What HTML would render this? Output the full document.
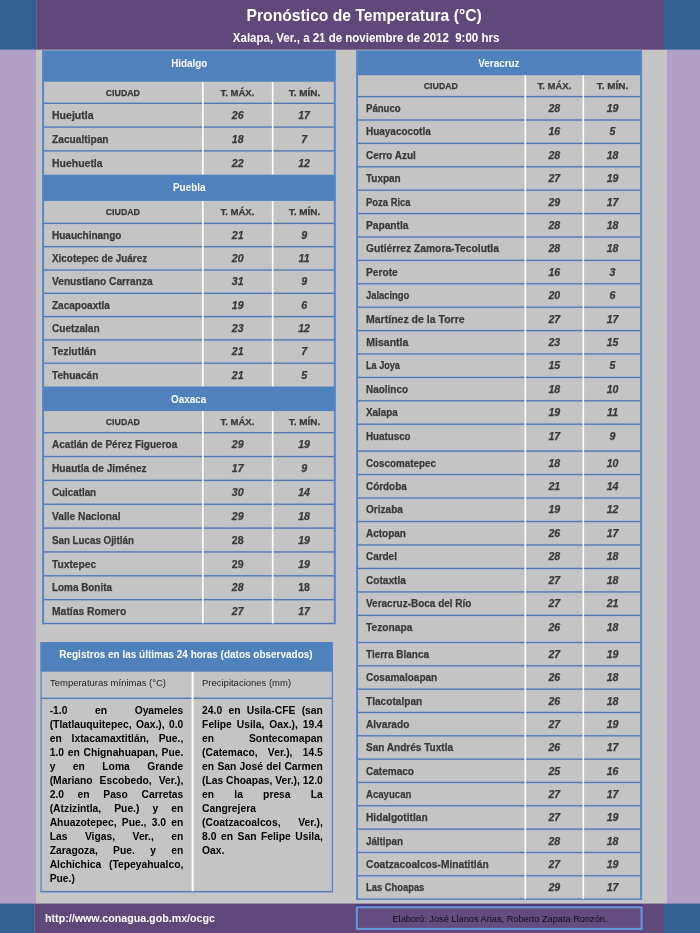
<!DOCTYPE html><html lang="es"><head><meta charset="utf-8"><title>Pronóstico de Temperatura</title><style>

html,body{margin:0;padding:0}
body{width:700px;height:933px;position:relative;overflow:hidden;background:#b2a1c7;font-family:"Liberation Sans",sans-serif;will-change:transform;}
div{position:absolute;box-sizing:border-box}
.t{white-space:nowrap;}
.hd{color:#fff;font-weight:bold;text-align:center;font-size:10.5px}
.row{background:#c4c4c4;border-top:1px solid #5277b0}
.city{-webkit-text-stroke:0.25px #393939;color:#393939;font-weight:bold;font-size:10.5px;white-space:nowrap;transform-origin:0 50%;height:20px;line-height:20px}
.num{-webkit-text-stroke:0.25px #393939;color:#393939;font-weight:bold;font-style:italic;font-size:10.6px;text-align:center;white-space:nowrap;height:20px;line-height:20px}
.ch{-webkit-text-stroke:0.25px #393939;color:#393939;font-weight:bold;font-size:9.2px;text-align:center;white-space:nowrap}
.ch span{display:inline-block}
.vl{background:#fff;width:1.8px}
.j{position:static;text-align:justify;text-align-last:justify;white-space:normal}
.l{position:static;text-align:left;white-space:nowrap}

</style></head><body>
<svg width="700" height="933" viewBox="0 0 700 933" style="position:absolute;left:0;top:0" shape-rendering="geometricPrecision"><rect x="36" y="49.6" width="631" height="854.4" fill="#c5c5c5"/><rect x="0" y="0" width="36.6" height="49.6" fill="#365f91"/><rect x="664" y="0" width="36" height="49.6" fill="#365f91"/><rect x="36.6" y="0" width="627.4" height="49.6" fill="#5f497a"/><rect x="0" y="903.6" width="34.6" height="30" fill="#365f91"/><rect x="664" y="903.6" width="36" height="30" fill="#365f91"/><rect x="34.6" y="903.6" width="629.4" height="30" fill="#5f497a"/><rect x="42.4" y="50.4" width="293.10" height="573.10" fill="#c4c4c4"/><rect x="42.40" y="101.40" width="293.10" height="3.8" fill="#a9c3ea" fill-opacity="0.18"/><rect x="42.40" y="102.62" width="293.10" height="1.35" fill="#5277b0"/><rect x="42.40" y="125.20" width="293.10" height="3.8" fill="#a9c3ea" fill-opacity="0.18"/><rect x="42.40" y="126.42" width="293.10" height="1.35" fill="#5277b0"/><rect x="42.40" y="149.00" width="293.10" height="3.8" fill="#a9c3ea" fill-opacity="0.18"/><rect x="42.40" y="150.22" width="293.10" height="1.35" fill="#5277b0"/><rect x="42.40" y="221.50" width="293.10" height="3.8" fill="#a9c3ea" fill-opacity="0.18"/><rect x="42.40" y="222.72" width="293.10" height="1.35" fill="#5277b0"/><rect x="42.40" y="244.80" width="293.10" height="3.8" fill="#a9c3ea" fill-opacity="0.18"/><rect x="42.40" y="246.03" width="293.10" height="1.35" fill="#5277b0"/><rect x="42.40" y="268.10" width="293.10" height="3.8" fill="#a9c3ea" fill-opacity="0.18"/><rect x="42.40" y="269.32" width="293.10" height="1.35" fill="#5277b0"/><rect x="42.40" y="291.40" width="293.10" height="3.8" fill="#a9c3ea" fill-opacity="0.18"/><rect x="42.40" y="292.62" width="293.10" height="1.35" fill="#5277b0"/><rect x="42.40" y="314.70" width="293.10" height="3.8" fill="#a9c3ea" fill-opacity="0.18"/><rect x="42.40" y="315.93" width="293.10" height="1.35" fill="#5277b0"/><rect x="42.40" y="338.00" width="293.10" height="3.8" fill="#a9c3ea" fill-opacity="0.18"/><rect x="42.40" y="339.22" width="293.10" height="1.35" fill="#5277b0"/><rect x="42.40" y="361.30" width="293.10" height="3.8" fill="#a9c3ea" fill-opacity="0.18"/><rect x="42.40" y="362.52" width="293.10" height="1.35" fill="#5277b0"/><rect x="42.40" y="430.80" width="293.10" height="3.8" fill="#a9c3ea" fill-opacity="0.18"/><rect x="42.40" y="432.02" width="293.10" height="1.35" fill="#5277b0"/><rect x="42.40" y="454.65" width="293.10" height="3.8" fill="#a9c3ea" fill-opacity="0.18"/><rect x="42.40" y="455.88" width="293.10" height="1.35" fill="#5277b0"/><rect x="42.40" y="478.50" width="293.10" height="3.8" fill="#a9c3ea" fill-opacity="0.18"/><rect x="42.40" y="479.72" width="293.10" height="1.35" fill="#5277b0"/><rect x="42.40" y="502.35" width="293.10" height="3.8" fill="#a9c3ea" fill-opacity="0.18"/><rect x="42.40" y="503.57" width="293.10" height="1.35" fill="#5277b0"/><rect x="42.40" y="526.20" width="293.10" height="3.8" fill="#a9c3ea" fill-opacity="0.18"/><rect x="42.40" y="527.43" width="293.10" height="1.35" fill="#5277b0"/><rect x="42.40" y="550.05" width="293.10" height="3.8" fill="#a9c3ea" fill-opacity="0.18"/><rect x="42.40" y="551.28" width="293.10" height="1.35" fill="#5277b0"/><rect x="42.40" y="573.90" width="293.10" height="3.8" fill="#a9c3ea" fill-opacity="0.18"/><rect x="42.40" y="575.12" width="293.10" height="1.35" fill="#5277b0"/><rect x="42.40" y="597.75" width="293.10" height="3.8" fill="#a9c3ea" fill-opacity="0.18"/><rect x="42.40" y="598.98" width="293.10" height="1.35" fill="#5277b0"/><rect x="42.40" y="621.60" width="293.10" height="3.8" fill="#a9c3ea" fill-opacity="0.18"/><rect x="42.40" y="622.83" width="293.10" height="1.35" fill="#5277b0"/><rect x="202.00" y="50.40" width="1.6" height="573.10" fill="#fff"/><rect x="271.90" y="50.40" width="1.6" height="573.10" fill="#fff"/><rect x="42.4" y="50.40" width="293.10" height="31.30" fill="#4f81bd"/><rect x="42.4" y="174.70" width="293.10" height="26.20" fill="#4f81bd"/><rect x="42.4" y="386.50" width="293.10" height="24.60" fill="#4f81bd"/><rect x="42.10" y="50.40" width="2.0" height="573.90" fill="#5a85c8"/><rect x="333.80" y="50.40" width="2.0" height="573.90" fill="#5a85c8"/><rect x="356.4" y="50.4" width="285.40" height="848.70" fill="#c4c4c4"/><rect x="356.40" y="94.70" width="285.40" height="3.8" fill="#a9c3ea" fill-opacity="0.18"/><rect x="356.40" y="95.92" width="285.40" height="1.35" fill="#5277b0"/><rect x="356.40" y="118.10" width="285.40" height="3.8" fill="#a9c3ea" fill-opacity="0.18"/><rect x="356.40" y="119.33" width="285.40" height="1.35" fill="#5277b0"/><rect x="356.40" y="141.50" width="285.40" height="3.8" fill="#a9c3ea" fill-opacity="0.18"/><rect x="356.40" y="142.72" width="285.40" height="1.35" fill="#5277b0"/><rect x="356.40" y="164.90" width="285.40" height="3.8" fill="#a9c3ea" fill-opacity="0.18"/><rect x="356.40" y="166.12" width="285.40" height="1.35" fill="#5277b0"/><rect x="356.40" y="188.30" width="285.40" height="3.8" fill="#a9c3ea" fill-opacity="0.18"/><rect x="356.40" y="189.52" width="285.40" height="1.35" fill="#5277b0"/><rect x="356.40" y="211.70" width="285.40" height="3.8" fill="#a9c3ea" fill-opacity="0.18"/><rect x="356.40" y="212.92" width="285.40" height="1.35" fill="#5277b0"/><rect x="356.40" y="235.10" width="285.40" height="3.8" fill="#a9c3ea" fill-opacity="0.18"/><rect x="356.40" y="236.32" width="285.40" height="1.35" fill="#5277b0"/><rect x="356.40" y="258.50" width="285.40" height="3.8" fill="#a9c3ea" fill-opacity="0.18"/><rect x="356.40" y="259.72" width="285.40" height="1.35" fill="#5277b0"/><rect x="356.40" y="281.90" width="285.40" height="3.8" fill="#a9c3ea" fill-opacity="0.18"/><rect x="356.40" y="283.12" width="285.40" height="1.35" fill="#5277b0"/><rect x="356.40" y="305.30" width="285.40" height="3.8" fill="#a9c3ea" fill-opacity="0.18"/><rect x="356.40" y="306.52" width="285.40" height="1.35" fill="#5277b0"/><rect x="356.40" y="328.70" width="285.40" height="3.8" fill="#a9c3ea" fill-opacity="0.18"/><rect x="356.40" y="329.93" width="285.40" height="1.35" fill="#5277b0"/><rect x="356.40" y="352.10" width="285.40" height="3.8" fill="#a9c3ea" fill-opacity="0.18"/><rect x="356.40" y="353.32" width="285.40" height="1.35" fill="#5277b0"/><rect x="356.40" y="375.50" width="285.40" height="3.8" fill="#a9c3ea" fill-opacity="0.18"/><rect x="356.40" y="376.72" width="285.40" height="1.35" fill="#5277b0"/><rect x="356.40" y="398.90" width="285.40" height="3.8" fill="#a9c3ea" fill-opacity="0.18"/><rect x="356.40" y="400.12" width="285.40" height="1.35" fill="#5277b0"/><rect x="356.40" y="422.30" width="285.40" height="3.8" fill="#a9c3ea" fill-opacity="0.18"/><rect x="356.40" y="423.53" width="285.40" height="1.35" fill="#5277b0"/><rect x="356.40" y="449.20" width="285.40" height="3.8" fill="#a9c3ea" fill-opacity="0.18"/><rect x="356.40" y="450.43" width="285.40" height="1.35" fill="#5277b0"/><rect x="356.40" y="472.67" width="285.40" height="3.8" fill="#a9c3ea" fill-opacity="0.18"/><rect x="356.40" y="473.90" width="285.40" height="1.35" fill="#5277b0"/><rect x="356.40" y="496.14" width="285.40" height="3.8" fill="#a9c3ea" fill-opacity="0.18"/><rect x="356.40" y="497.37" width="285.40" height="1.35" fill="#5277b0"/><rect x="356.40" y="519.61" width="285.40" height="3.8" fill="#a9c3ea" fill-opacity="0.18"/><rect x="356.40" y="520.84" width="285.40" height="1.35" fill="#5277b0"/><rect x="356.40" y="543.09" width="285.40" height="3.8" fill="#a9c3ea" fill-opacity="0.18"/><rect x="356.40" y="544.31" width="285.40" height="1.35" fill="#5277b0"/><rect x="356.40" y="566.56" width="285.40" height="3.8" fill="#a9c3ea" fill-opacity="0.18"/><rect x="356.40" y="567.78" width="285.40" height="1.35" fill="#5277b0"/><rect x="356.40" y="590.03" width="285.40" height="3.8" fill="#a9c3ea" fill-opacity="0.18"/><rect x="356.40" y="591.25" width="285.40" height="1.35" fill="#5277b0"/><rect x="356.40" y="613.50" width="285.40" height="3.8" fill="#a9c3ea" fill-opacity="0.18"/><rect x="356.40" y="614.73" width="285.40" height="1.35" fill="#5277b0"/><rect x="356.40" y="640.60" width="285.40" height="3.8" fill="#a9c3ea" fill-opacity="0.18"/><rect x="356.40" y="641.83" width="285.40" height="1.35" fill="#5277b0"/><rect x="356.40" y="663.93" width="285.40" height="3.8" fill="#a9c3ea" fill-opacity="0.18"/><rect x="356.40" y="665.15" width="285.40" height="1.35" fill="#5277b0"/><rect x="356.40" y="687.25" width="285.40" height="3.8" fill="#a9c3ea" fill-opacity="0.18"/><rect x="356.40" y="688.48" width="285.40" height="1.35" fill="#5277b0"/><rect x="356.40" y="710.58" width="285.40" height="3.8" fill="#a9c3ea" fill-opacity="0.18"/><rect x="356.40" y="711.81" width="285.40" height="1.35" fill="#5277b0"/><rect x="356.40" y="733.91" width="285.40" height="3.8" fill="#a9c3ea" fill-opacity="0.18"/><rect x="356.40" y="735.13" width="285.40" height="1.35" fill="#5277b0"/><rect x="356.40" y="757.24" width="285.40" height="3.8" fill="#a9c3ea" fill-opacity="0.18"/><rect x="356.40" y="758.46" width="285.40" height="1.35" fill="#5277b0"/><rect x="356.40" y="780.56" width="285.40" height="3.8" fill="#a9c3ea" fill-opacity="0.18"/><rect x="356.40" y="781.79" width="285.40" height="1.35" fill="#5277b0"/><rect x="356.40" y="803.89" width="285.40" height="3.8" fill="#a9c3ea" fill-opacity="0.18"/><rect x="356.40" y="805.12" width="285.40" height="1.35" fill="#5277b0"/><rect x="356.40" y="827.22" width="285.40" height="3.8" fill="#a9c3ea" fill-opacity="0.18"/><rect x="356.40" y="828.44" width="285.40" height="1.35" fill="#5277b0"/><rect x="356.40" y="850.55" width="285.40" height="3.8" fill="#a9c3ea" fill-opacity="0.18"/><rect x="356.40" y="851.77" width="285.40" height="1.35" fill="#5277b0"/><rect x="356.40" y="873.87" width="285.40" height="3.8" fill="#a9c3ea" fill-opacity="0.18"/><rect x="356.40" y="875.10" width="285.40" height="1.35" fill="#5277b0"/><rect x="356.40" y="897.20" width="285.40" height="3.8" fill="#a9c3ea" fill-opacity="0.18"/><rect x="356.40" y="898.43" width="285.40" height="1.35" fill="#5277b0"/><rect x="524.50" y="50.40" width="1.6" height="848.70" fill="#fff"/><rect x="582.50" y="50.40" width="1.6" height="848.70" fill="#fff"/><rect x="356.4" y="50.40" width="285.40" height="24.80" fill="#4f81bd"/><rect x="356.10" y="50.40" width="2.0" height="849.50" fill="#5a85c8"/><rect x="640.10" y="50.40" width="2.0" height="849.50" fill="#5a85c8"/><rect x="40.5" y="642" width="292.5" height="250.20000000000005" fill="#c4c4c4"/><rect x="40.50" y="696.40" width="292.50" height="3.8" fill="#a9c3ea" fill-opacity="0.18"/><rect x="40.50" y="697.62" width="292.50" height="1.35" fill="#5277b0"/><rect x="40.50" y="889.80" width="292.50" height="3.8" fill="#a9c3ea" fill-opacity="0.18"/><rect x="40.50" y="891.05" width="292.50" height="1.3" fill="#5277b0"/><rect x="191.60" y="671.70" width="2.0" height="219.50" fill="#fff"/><rect x="40.5" y="642" width="292.5" height="29.7" fill="#4f81bd"/><rect x="40.45" y="642.00" width="1.3" height="250.20" fill="#5a85c8"/><rect x="331.75" y="642.00" width="1.3" height="250.20" fill="#5a85c8"/><rect x="355.7" y="904.6" width="287" height="3" fill="#46367a"/><rect x="356.85" y="907.25" width="284.7" height="21.7" fill="#634d80" stroke="#6a92d6" stroke-width="2.1"/></svg>
<div class="t" style="left:36px;width:657px;top:4px;height:24px;line-height:24px;text-align:center;color:#fff;font-weight:bold;font-size:16.7px"><span style="display:inline-block;transform:scaleX(0.94)">Pronóstico de Temperatura (°C)</span></div>
<div class="t" style="left:36px;width:660px;top:30px;height:16px;line-height:16px;text-align:center;color:#fff;font-weight:bold;font-size:12px;white-space:pre"><span style="display:inline-block;transform:scaleX(0.958)">Xalapa, Ver., a 21 de noviembre de 2012  9:00 hrs</span></div>
<div class="hd" style="left:42.4px;top:50.4px;width:293.1px;height:31.300000000000004px;line-height:26.6px"><span style="display:inline-block;transform:scaleX(0.94)">Hidalgo</span></div>
<div class="ch" style="left:42.4px;top:81.7px;width:160.4px;height:21.599999999999994px;line-height:22.199999999999996px"><span style="transform:scaleX(0.958)">CIUDAD</span></div>
<div class="ch" style="left:202.8px;top:81.7px;width:69.89999999999998px;height:21.599999999999994px;line-height:22.199999999999996px"><span style="transform:scaleX(1.038)">T. MÁX.</span></div>
<div class="ch" style="left:272.7px;top:81.7px;width:62.80000000000001px;height:21.599999999999994px;line-height:22.199999999999996px"><span style="transform:scaleX(1.087)">T. MÍN.</span></div>
<div class="city" style="left:51.70px;top:105.00px;transform:scaleX(1.004)">Huejutla</div>
<div class="num" style="left:202.80px;top:105.00px;width:69.90px">26</div>
<div class="num" style="left:272.70px;top:105.00px;width:62.80px">17</div>
<div class="city" style="left:51.70px;top:129.00px;transform:scaleX(0.970)">Zacualtipan</div>
<div class="num" style="left:202.80px;top:129.00px;width:69.90px">18</div>
<div class="num" style="left:272.70px;top:129.00px;width:62.80px">7</div>
<div class="city" style="left:51.70px;top:153.00px;transform:scaleX(0.997)">Huehuetla</div>
<div class="num" style="left:202.80px;top:153.00px;width:69.90px">22</div>
<div class="num" style="left:272.70px;top:153.00px;width:62.80px">12</div>
<div class="hd" style="left:42.4px;top:174.7px;width:293.1px;height:26.200000000000017px;line-height:25.0px"><span style="display:inline-block;transform:scaleX(0.94)">Puebla</span></div>
<div class="ch" style="left:42.4px;top:200.9px;width:160.4px;height:22.5px;line-height:23.1px"><span style="transform:scaleX(0.958)">CIUDAD</span></div>
<div class="ch" style="left:202.8px;top:200.9px;width:69.89999999999998px;height:22.5px;line-height:23.1px"><span style="transform:scaleX(1.038)">T. MÁX.</span></div>
<div class="ch" style="left:272.7px;top:200.9px;width:62.80000000000001px;height:22.5px;line-height:23.1px"><span style="transform:scaleX(1.087)">T. MÍN.</span></div>
<div class="city" style="left:51.70px;top:225.00px;transform:scaleX(0.952)">Huauchinango</div>
<div class="num" style="left:202.80px;top:225.00px;width:69.90px">21</div>
<div class="num" style="left:272.70px;top:225.00px;width:62.80px">9</div>
<div class="city" style="left:51.70px;top:248.00px;transform:scaleX(0.942)">Xicotepec de Juárez</div>
<div class="num" style="left:202.80px;top:248.00px;width:69.90px">20</div>
<div class="num" style="left:272.70px;top:248.00px;width:62.80px">11</div>
<div class="city" style="left:51.70px;top:271.00px;transform:scaleX(0.969)">Venustiano Carranza</div>
<div class="num" style="left:202.80px;top:271.00px;width:69.90px">31</div>
<div class="num" style="left:272.70px;top:271.00px;width:62.80px">9</div>
<div class="city" style="left:51.70px;top:295.00px;transform:scaleX(0.954)">Zacapoaxtla</div>
<div class="num" style="left:202.80px;top:295.00px;width:69.90px">19</div>
<div class="num" style="left:272.70px;top:295.00px;width:62.80px">6</div>
<div class="city" style="left:51.70px;top:318.00px;transform:scaleX(0.960)">Cuetzalan</div>
<div class="num" style="left:202.80px;top:318.00px;width:69.90px">23</div>
<div class="num" style="left:272.70px;top:318.00px;width:62.80px">12</div>
<div class="city" style="left:51.70px;top:341.00px;transform:scaleX(0.986)">Teziutlán</div>
<div class="num" style="left:202.80px;top:341.00px;width:69.90px">21</div>
<div class="num" style="left:272.70px;top:341.00px;width:62.80px">7</div>
<div class="city" style="left:51.70px;top:365.00px;transform:scaleX(0.960)">Tehuacán</div>
<div class="num" style="left:202.80px;top:365.00px;width:69.90px">21</div>
<div class="num" style="left:272.70px;top:365.00px;width:62.80px">5</div>
<div class="hd" style="left:42.4px;top:386.5px;width:293.1px;height:24.600000000000023px;line-height:24.4px"><span style="display:inline-block;transform:scaleX(0.94)">Oaxaca</span></div>
<div class="ch" style="left:42.4px;top:411.1px;width:160.4px;height:21.599999999999966px;line-height:22.199999999999967px"><span style="transform:scaleX(0.958)">CIUDAD</span></div>
<div class="ch" style="left:202.8px;top:411.1px;width:69.89999999999998px;height:21.599999999999966px;line-height:22.199999999999967px"><span style="transform:scaleX(1.038)">T. MÁX.</span></div>
<div class="ch" style="left:272.7px;top:411.1px;width:62.80000000000001px;height:21.599999999999966px;line-height:22.199999999999967px"><span style="transform:scaleX(1.087)">T. MÍN.</span></div>
<div class="city" style="left:51.70px;top:434.00px;transform:scaleX(0.954)">Acatlán de Pérez Figueroa</div>
<div class="num" style="left:202.80px;top:434.00px;width:69.90px">29</div>
<div class="num" style="left:272.70px;top:434.00px;width:62.80px">19</div>
<div class="city" style="left:51.70px;top:458.00px;transform:scaleX(0.966)">Huautla de Jiménez</div>
<div class="num" style="left:202.80px;top:458.00px;width:69.90px">17</div>
<div class="num" style="left:272.70px;top:458.00px;width:62.80px">9</div>
<div class="city" style="left:51.70px;top:482.00px;transform:scaleX(0.933)">Cuicatlan</div>
<div class="num" style="left:202.80px;top:482.00px;width:69.90px">30</div>
<div class="num" style="left:272.70px;top:482.00px;width:62.80px">14</div>
<div class="city" style="left:51.70px;top:506.00px;transform:scaleX(0.971)">Valle Nacional</div>
<div class="num" style="left:202.80px;top:506.00px;width:69.90px">29</div>
<div class="num" style="left:272.70px;top:506.00px;width:62.80px">18</div>
<div class="city" style="left:51.70px;top:530.00px;transform:scaleX(0.930)">San Lucas Ojitlán</div>
<div class="num" style="left:202.80px;top:530.00px;width:69.90px;font-style:normal">28</div>
<div class="num" style="left:272.70px;top:530.00px;width:62.80px">19</div>
<div class="city" style="left:51.70px;top:554.00px;transform:scaleX(0.973)">Tuxtepec</div>
<div class="num" style="left:202.80px;top:554.00px;width:69.90px;font-style:normal">29</div>
<div class="num" style="left:272.70px;top:554.00px;width:62.80px">19</div>
<div class="city" style="left:51.70px;top:577.00px;transform:scaleX(0.943)">Loma Bonita</div>
<div class="num" style="left:202.80px;top:577.00px;width:69.90px">28</div>
<div class="num" style="left:272.70px;top:577.00px;width:62.80px;font-style:normal">18</div>
<div class="city" style="left:51.70px;top:601.00px;transform:scaleX(0.986)">Matías Romero</div>
<div class="num" style="left:202.80px;top:601.00px;width:69.90px">27</div>
<div class="num" style="left:272.70px;top:601.00px;width:62.80px">17</div>
<div class="hd" style="left:356.4px;top:50.4px;width:285.4px;height:24.800000000000004px;line-height:26.6px"><span style="display:inline-block;transform:scaleX(0.94)">Veracruz</span></div>
<div class="ch" style="left:356.4px;top:75.2px;width:168.89999999999998px;height:21.39999999999999px;line-height:21.999999999999993px"><span style="transform:scaleX(0.958)">CIUDAD</span></div>
<div class="ch" style="left:525.3px;top:75.2px;width:58.0px;height:21.39999999999999px;line-height:21.999999999999993px"><span style="transform:scaleX(1.038)">T. MÁX.</span></div>
<div class="ch" style="left:583.3px;top:75.2px;width:58.5px;height:21.39999999999999px;line-height:21.999999999999993px"><span style="transform:scaleX(1.087)">T. MÍN.</span></div>
<div class="city" style="left:366.30px;top:98.00px;transform:scaleX(0.915)">Pánuco</div>
<div class="num" style="left:525.30px;top:98.00px;width:58.00px">28</div>
<div class="num" style="left:583.30px;top:98.00px;width:58.50px">19</div>
<div class="city" style="left:366.30px;top:121.00px;transform:scaleX(0.948)">Huayacocotla</div>
<div class="num" style="left:525.30px;top:121.00px;width:58.00px">16</div>
<div class="num" style="left:583.30px;top:121.00px;width:58.50px">5</div>
<div class="city" style="left:366.30px;top:145.00px;transform:scaleX(0.943)">Cerro Azul</div>
<div class="num" style="left:525.30px;top:145.00px;width:58.00px">28</div>
<div class="num" style="left:583.30px;top:145.00px;width:58.50px">18</div>
<div class="city" style="left:366.30px;top:168.00px;transform:scaleX(0.949)">Tuxpan</div>
<div class="num" style="left:525.30px;top:168.00px;width:58.00px">27</div>
<div class="num" style="left:583.30px;top:168.00px;width:58.50px">19</div>
<div class="city" style="left:366.30px;top:192.00px;transform:scaleX(0.899)">Poza Rica</div>
<div class="num" style="left:525.30px;top:192.00px;width:58.00px">29</div>
<div class="num" style="left:583.30px;top:192.00px;width:58.50px">17</div>
<div class="city" style="left:366.30px;top:215.00px;transform:scaleX(0.969)">Papantla</div>
<div class="num" style="left:525.30px;top:215.00px;width:58.00px">28</div>
<div class="num" style="left:583.30px;top:215.00px;width:58.50px">18</div>
<div class="city" style="left:366.30px;top:238.00px;transform:scaleX(0.979)">Gutiérrez Zamora-Tecolutla</div>
<div class="num" style="left:525.30px;top:238.00px;width:58.00px">28</div>
<div class="num" style="left:583.30px;top:238.00px;width:58.50px">18</div>
<div class="city" style="left:366.30px;top:262.00px;transform:scaleX(0.970)">Perote</div>
<div class="num" style="left:525.30px;top:262.00px;width:58.00px">16</div>
<div class="num" style="left:583.30px;top:262.00px;width:58.50px">3</div>
<div class="city" style="left:366.30px;top:285.00px;transform:scaleX(0.894)">Jalacingo</div>
<div class="num" style="left:525.30px;top:285.00px;width:58.00px">20</div>
<div class="num" style="left:583.30px;top:285.00px;width:58.50px">6</div>
<div class="city" style="left:366.30px;top:309.00px;transform:scaleX(1.002)">Martínez de la Torre</div>
<div class="num" style="left:525.30px;top:309.00px;width:58.00px">27</div>
<div class="num" style="left:583.30px;top:309.00px;width:58.50px">17</div>
<div class="city" style="left:366.30px;top:332.00px;transform:scaleX(1.000)">Misantla</div>
<div class="num" style="left:525.30px;top:332.00px;width:58.00px">23</div>
<div class="num" style="left:583.30px;top:332.00px;width:58.50px">15</div>
<div class="city" style="left:366.30px;top:355.00px;transform:scaleX(0.867)">La Joya</div>
<div class="num" style="left:525.30px;top:355.00px;width:58.00px">15</div>
<div class="num" style="left:583.30px;top:355.00px;width:58.50px">5</div>
<div class="city" style="left:366.30px;top:379.00px;transform:scaleX(0.947)">Naolinco</div>
<div class="num" style="left:525.30px;top:379.00px;width:58.00px">18</div>
<div class="num" style="left:583.30px;top:379.00px;width:58.50px">10</div>
<div class="city" style="left:366.30px;top:402.00px;transform:scaleX(0.936)">Xalapa</div>
<div class="num" style="left:525.30px;top:402.00px;width:58.00px">19</div>
<div class="num" style="left:583.30px;top:402.00px;width:58.50px">11</div>
<div class="city" style="left:366.30px;top:426.00px;transform:scaleX(0.932)">Huatusco</div>
<div class="num" style="left:525.30px;top:426.00px;width:58.00px">17</div>
<div class="num" style="left:583.30px;top:426.00px;width:58.50px">9</div>
<div class="city" style="left:366.30px;top:453.00px;transform:scaleX(0.936)">Coscomatepec</div>
<div class="num" style="left:525.30px;top:453.00px;width:58.00px">18</div>
<div class="num" style="left:583.30px;top:453.00px;width:58.50px">10</div>
<div class="city" style="left:366.30px;top:476.00px;transform:scaleX(0.943)">Córdoba</div>
<div class="num" style="left:525.30px;top:476.00px;width:58.00px">21</div>
<div class="num" style="left:583.30px;top:476.00px;width:58.50px">14</div>
<div class="city" style="left:366.30px;top:499.00px;transform:scaleX(0.958)">Orizaba</div>
<div class="num" style="left:525.30px;top:499.00px;width:58.00px">19</div>
<div class="num" style="left:583.30px;top:499.00px;width:58.50px">12</div>
<div class="city" style="left:366.30px;top:523.00px;transform:scaleX(0.950)">Actopan</div>
<div class="num" style="left:525.30px;top:523.00px;width:58.00px">26</div>
<div class="num" style="left:583.30px;top:523.00px;width:58.50px">17</div>
<div class="city" style="left:366.30px;top:546.00px;transform:scaleX(0.945)">Cardel</div>
<div class="num" style="left:525.30px;top:546.00px;width:58.00px">28</div>
<div class="num" style="left:583.30px;top:546.00px;width:58.50px">18</div>
<div class="city" style="left:366.30px;top:570.00px;transform:scaleX(0.963)">Cotaxtla</div>
<div class="num" style="left:525.30px;top:570.00px;width:58.00px">27</div>
<div class="num" style="left:583.30px;top:570.00px;width:58.50px">18</div>
<div class="city" style="left:366.30px;top:593.00px;transform:scaleX(0.951)">Veracruz-Boca del Río</div>
<div class="num" style="left:525.30px;top:593.00px;width:58.00px">27</div>
<div class="num" style="left:583.30px;top:593.00px;width:58.50px">21</div>
<div class="city" style="left:366.30px;top:617.00px;transform:scaleX(0.972)">Tezonapa</div>
<div class="num" style="left:525.30px;top:617.00px;width:58.00px">26</div>
<div class="num" style="left:583.30px;top:617.00px;width:58.50px">18</div>
<div class="city" style="left:366.30px;top:644.00px;transform:scaleX(0.950)">Tierra Blanca</div>
<div class="num" style="left:525.30px;top:644.00px;width:58.00px">27</div>
<div class="num" style="left:583.30px;top:644.00px;width:58.50px">19</div>
<div class="city" style="left:366.30px;top:667.00px;transform:scaleX(0.953)">Cosamaloapan</div>
<div class="num" style="left:525.30px;top:667.00px;width:58.00px">26</div>
<div class="num" style="left:583.30px;top:667.00px;width:58.50px">18</div>
<div class="city" style="left:366.30px;top:691.00px;transform:scaleX(0.963)">Tlacotalpan</div>
<div class="num" style="left:525.30px;top:691.00px;width:58.00px">26</div>
<div class="num" style="left:583.30px;top:691.00px;width:58.50px">18</div>
<div class="city" style="left:366.30px;top:714.00px;transform:scaleX(0.964)">Alvarado</div>
<div class="num" style="left:525.30px;top:714.00px;width:58.00px">27</div>
<div class="num" style="left:583.30px;top:714.00px;width:58.50px">19</div>
<div class="city" style="left:366.30px;top:737.00px;transform:scaleX(0.956)">San Andrés Tuxtla</div>
<div class="num" style="left:525.30px;top:737.00px;width:58.00px">26</div>
<div class="num" style="left:583.30px;top:737.00px;width:58.50px">17</div>
<div class="city" style="left:366.30px;top:761.00px;transform:scaleX(0.956)">Catemaco</div>
<div class="num" style="left:525.30px;top:761.00px;width:58.00px">25</div>
<div class="num" style="left:583.30px;top:761.00px;width:58.50px">16</div>
<div class="city" style="left:366.30px;top:784.00px;transform:scaleX(0.915)">Acayucan</div>
<div class="num" style="left:525.30px;top:784.00px;width:58.00px">27</div>
<div class="num" style="left:583.30px;top:784.00px;width:58.50px">17</div>
<div class="city" style="left:366.30px;top:807.00px;transform:scaleX(0.970)">Hidalgotitlan</div>
<div class="num" style="left:525.30px;top:807.00px;width:58.00px">27</div>
<div class="num" style="left:583.30px;top:807.00px;width:58.50px">19</div>
<div class="city" style="left:366.30px;top:831.00px;transform:scaleX(0.930)">Jáltipan</div>
<div class="num" style="left:525.30px;top:831.00px;width:58.00px">28</div>
<div class="num" style="left:583.30px;top:831.00px;width:58.50px">18</div>
<div class="city" style="left:366.30px;top:854.00px;transform:scaleX(0.973)">Coatzacoalcos-Minatitlán</div>
<div class="num" style="left:525.30px;top:854.00px;width:58.00px">27</div>
<div class="num" style="left:583.30px;top:854.00px;width:58.50px">19</div>
<div class="city" style="left:366.30px;top:877.00px;transform:scaleX(0.892)">Las Choapas</div>
<div class="num" style="left:525.30px;top:877.00px;width:58.00px">29</div>
<div class="num" style="left:583.30px;top:877.00px;width:58.50px">17</div>
<div class="hd" style="left:40.5px;top:642px;width:292.5px;height:29.7px;line-height:25.6px;font-size:10.4px;padding-right:1px"><span style="display:inline-block;transform:scaleX(0.96)">Registros en las últimas 24 horas (datos observados)</span></div>
<div class="t" style="left:49.9px;top:674.6px;height:16px;line-height:16px;font-size:9.3px;color:#1c1c1c"><span style="display:inline-block;transform:scaleX(1.02);transform-origin:0 50%">Temperaturas mínimas (°C)</span></div>
<div class="t" style="left:201.9px;top:674.6px;height:16px;line-height:16px;font-size:9.3px;color:#1c1c1c"><span style="display:inline-block;transform:scaleX(1.02);transform-origin:0 50%">Precipitaciones (mm)</span></div>
<div style="left:49.7px;top:704px;width:153.6px;font-size:10.3px;line-height:14.03px;font-weight:bold;color:#000;white-space:nowrap">
<div class="l" style="word-spacing:24.73px">-1.0 en Oyameles</div>
<div class="l" style="word-spacing:1.57px">(Tlatlauquitepec, Oax.), 0.0</div>
<div class="l" style="word-spacing:7.00px">en Ixtacamaxtitlán, Pue.,</div>
<div class="l" style="word-spacing:0.86px">1.0 en Chignahuapan, Pue.</div>
<div class="l" style="word-spacing:14.59px">y en Loma Grande</div>
<div class="l" style="word-spacing:4.14px">(Mariano Escobedo, Ver.),</div>
<div class="l" style="word-spacing:10.76px">2.0 en Paso Carretas</div>
<div class="l" style="word-spacing:10.21px">(Atzizintla, Pue.) y en</div>
<div class="l" style="word-spacing:2.38px">Ahuazotepec, Pue., 3.0 en</div>
<div class="l" style="word-spacing:14.64px">Las Vigas, Ver., en</div>
<div class="l" style="word-spacing:12.49px">Zaragoza, Pue. y en</div>
<div class="l" style="word-spacing:5.04px">Alchichica (Tepeyahualco,</div>
<div class="l">Pue.)</div>
</div>
<div style="left:202.1px;top:704px;width:140.7px;font-size:10.3px;line-height:14.03px;font-weight:bold;color:#000;white-space:nowrap">
<div class="l" style="word-spacing:3.42px">24.0 en Usila-CFE (san</div>
<div class="l" style="word-spacing:2.08px">Felipe Usila, Oax.), 19.4</div>
<div class="l" style="word-spacing:32.01px">en Sontecomapan</div>
<div class="l" style="word-spacing:7.40px">(Catemaco, Ver.), 14.5</div>
<div class="l" style="word-spacing:0.41px">en San José del Carmen</div>
<div class="l" style="word-spacing:-0.02px">(Las Choapas, Ver.), 12.0</div>
<div class="l" style="word-spacing:17.34px">en la presa La</div>
<div class="l">Cangrejera</div>
<div class="l" style="word-spacing:14.83px">(Coatzacoalcos, Ver.),</div>
<div class="l" style="word-spacing:1.70px">8.0 en San Felipe Usila,</div>
<div class="l">Oax.</div>
</div>
<div class="t" style="left:45px;top:910px;height:16px;line-height:16px;color:#fff;font-weight:bold;font-size:10.7px">http://www.conagua.gob.mx/ocgc</div>
<div class="t" style="left:356px;top:907.4px;width:287px;height:23.5px;line-height:23.5px;text-align:center;color:#0e0e1a;font-size:9.6px"><span style="display:inline-block;transform:scaleX(0.96)">Elaboró: José Llanos Arias, Roberto Zapata Ronzón.</span></div>
</body></html>
